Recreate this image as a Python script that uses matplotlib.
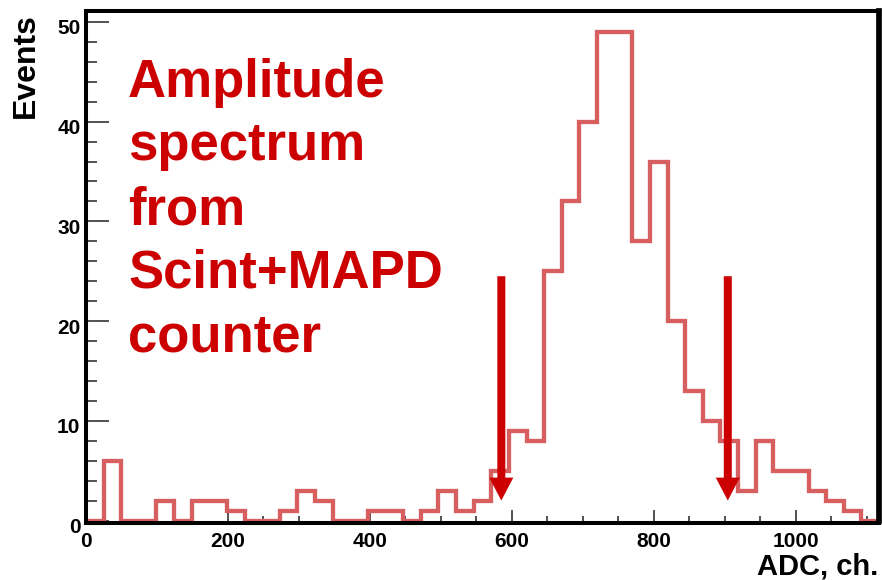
import numpy as np
import matplotlib
matplotlib.use("Agg")
import matplotlib.pyplot as plt
from matplotlib.ticker import MultipleLocator
from matplotlib.transforms import ScaledTranslation
from matplotlib.patches import FancyArrow

plt.rcParams['font.family'] = ['Liberation Sans', 'DejaVu Sans']
plt.rcParams['font.weight'] = 'bold'

# ---- data ----
bin_lo, bin_hi, n_bins = 0.0, 1117.0, 45
counts = [0, 6, 0, 0, 2, 0, 2, 2, 1, 0,
          0, 1, 3, 2, 0, 0, 1, 1, 0, 1,
          3, 1, 2, 5, 9, 8, 25, 32, 40, 49,
          49, 28, 36, 20, 13, 10, 8, 3, 8, 5,
          5, 3, 2, 1, 0]
arrow_x = [585, 904]
arrow_top = 24.5
arrow_tip = 2.0
text_lines = ["Amplitude", "spectrum", "from", "Scint+MAPD", "counter"]
x_label = "ADC, ch."
y_label = "Events"

edges = np.linspace(bin_lo, bin_hi, n_bins + 1)

W, H = 882, 580
fig = plt.figure(figsize=(W / 100, H / 100), dpi=100)
fig.patch.set_facecolor('white')
ax = fig.add_axes([86 / W, 1 - 520.5 / H, 793 / W, (520.5 - 10.5) / H])

ax.stairs(counts, edges, color='#D75F5F', linewidth=3.1, baseline=None, zorder=2)

# arrows
for xa in arrow_x:
    ax.add_patch(FancyArrow(xa, arrow_top, 0, arrow_tip - arrow_top,
                            width=8 / 0.71, head_width=24 / 0.71,
                            head_length=2.3, length_includes_head=True,
                            color='#CC0000', linewidth=0, zorder=4))

ax.set_xlim(bin_lo, bin_hi)
ax.set_ylim(0, 51.15)

ax.xaxis.set_major_locator(MultipleLocator(200))
ax.xaxis.set_minor_locator(MultipleLocator(50))
ax.yaxis.set_major_locator(MultipleLocator(10))
ax.yaxis.set_minor_locator(MultipleLocator(2))

ax.tick_params(axis='both', which='both', direction='in', color='#222222',
               width=1.1, labelsize=15)
ax.tick_params(axis='y', which='major', length=16.5, pad=4.0)
ax.tick_params(axis='y', which='minor', length=8)
ax.tick_params(axis='x', which='major', length=9.4, pad=6.5)
ax.tick_params(axis='x', which='minor', length=5)
ax.tick_params(top=False, right=False)

for lab in ax.get_yticklabels():
    lab.set_fontweight('bold')
    lab.set_transform(lab.get_transform() + ScaledTranslation(0, -3.6 / 72, fig.dpi_scale_trans))
for lab in ax.get_xticklabels():
    lab.set_fontweight('bold')

for name, lw in [('left', 2.9), ('bottom', 2.9), ('top', 2.9), ('right', 4.1)]:
    sp = ax.spines[name]
    sp.set_linewidth(lw)
    sp.set_color('black')
    sp.set_capstyle('projecting')
    sp.set_zorder(3)
ax.spines['bottom'].set_position(('outward', 1.8))

ax.set_xlabel(x_label, fontsize=21, fontweight='bold', ha='right', va='baseline')
ax.xaxis.set_label_coords(878 / W, 1 - 574.5 / H, transform=fig.transFigure)

ax.set_ylabel(y_label, fontsize=23, fontweight='bold', ha='right', va='center')
ax.yaxis.set_label_coords(26 / W, 1 - 13 / H, transform=fig.transFigure)

for i, line in enumerate(text_lines):
    fig.text(128 / W, 1 - (96.7 + i * 63.75) / H, line, color='#CC0000',
             fontsize=38, fontweight='bold', ha='left', va='baseline')

fig.savefig('out.png', dpi=100, facecolor='white')
